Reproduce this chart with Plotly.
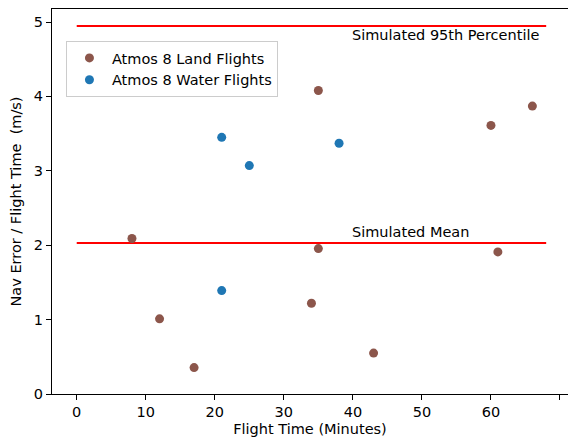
import plotly.graph_objects as go

# Data
land_x = [8, 12, 17, 34, 35, 35, 43, 60, 61, 66]
land_y = [2.09, 1.01, 0.355, 1.22, 4.08, 1.955, 0.55, 3.61, 1.91, 3.87]
water_x = [21, 25, 38, 21]
water_y = [3.45, 3.07, 3.37, 1.39]
ref_x = [0, 68]
p95_value = 4.945
mean_value = 2.03
x_ticks = [0, 10, 20, 30, 40, 50, 60, 70]
y_ticks = [0, 1, 2, 3, 4, 5]

FONT = "DejaVu Sans"
FS = 14.5

fig = go.Figure()

fig.add_trace(go.Scatter(
    x=ref_x, y=[p95_value, p95_value], mode="lines",
    line=dict(color="red", width=2), showlegend=False, hoverinfo="skip"))
fig.add_trace(go.Scatter(
    x=ref_x, y=[mean_value, mean_value], mode="lines",
    line=dict(color="red", width=2), showlegend=False, hoverinfo="skip"))

fig.add_trace(go.Scatter(
    x=land_x, y=land_y, mode="markers", name="Atmos 8 Land Flights",
    marker=dict(color="#8c564b", size=9)))
fig.add_trace(go.Scatter(
    x=water_x, y=water_y, mode="markers", name="Atmos 8 Water Flights",
    marker=dict(color="#1f77b4", size=9)))

fig.add_annotation(x=39.6, y=4.82, text="Simulated 95th Percentile", showarrow=False,
                   xanchor="left", yanchor="middle",
                   font=dict(family=FONT, size=FS, color="black"))
fig.add_annotation(x=39.6, y=2.18, text="Simulated Mean", showarrow=False,
                   xanchor="left", yanchor="middle",
                   font=dict(family=FONT, size=FS, color="black"))

fig.update_layout(
    width=568, height=437,
    margin=dict(l=52, r=0, t=9, b=43),
    paper_bgcolor="white", plot_bgcolor="white",
    font=dict(family=FONT, size=FS, color="black"),
    legend=dict(x=0.027, y=0.917, xanchor="left", yanchor="top",
                bgcolor="rgba(255,255,255,0.8)", bordercolor="#cccccc",
                borderwidth=1, font=dict(family=FONT, size=FS, color="black"),
                tracegroupgap=0, itemwidth=35),
    xaxis=dict(range=[-3.58, 71.16], tickvals=x_ticks, showgrid=False,
               zeroline=False, showline=True, linecolor="black", linewidth=1,
               mirror=True, ticks="outside", ticklen=5, tickwidth=1,
               tickcolor="black",
               title=dict(text="Flight Time (Minutes)", standoff=6,
                          font=dict(family=FONT, size=FS, color="black"))),
    yaxis=dict(range=[0, 5.175], tickvals=y_ticks, showgrid=False,
               zeroline=False, showline=True, linecolor="black", linewidth=1,
               mirror=False, ticks="outside", ticklen=5, tickwidth=1,
               tickcolor="black",
               title=dict(text="Nav Error / Flight Time  (m/s)", standoff=8,
                          font=dict(family=FONT, size=FS, color="black"))),
)

fig.write_html("out.html")
